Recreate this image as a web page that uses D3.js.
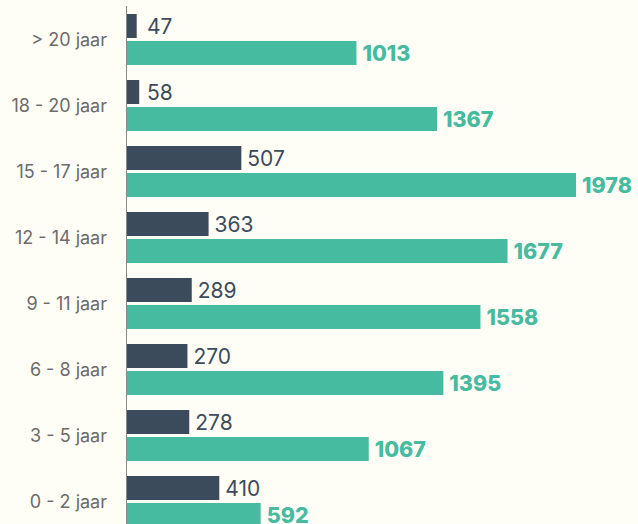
<!DOCTYPE html>
<html>
<head>
<meta charset="utf-8">
<script src="https://cdn.jsdelivr.net/npm/d3@7"></script>
<style>
  html, body { margin: 0; padding: 0; background: #fefdf6; }
  svg { display: block; }
</style>
</head>
<body>
<div class="visualisation"></div>
<script>
const categories = ["> 20 jaar", "18 - 20 jaar", "15 - 17 jaar", "12 - 14 jaar", "9 - 11 jaar", "6 - 8 jaar", "3 - 5 jaar", "0 - 2 jaar"];
const seriesDark = [47, 58, 507, 363, 289, 270, 278, 410];
const seriesGreen = [1013, 1367, 1978, 1677, 1558, 1395, 1067, 592];
const seriesKeys = ["dark", "green"];

const width = 638;
const height = 524;
const axisX = 126;

const rows = categories.map(function(c, i) {
  return { cat: c, dark: seriesDark[i], green: seriesGreen[i] };
});

const svg = d3
  .select(".visualisation")
  .append("svg")
  .attr("width", width)
  .attr("height", height);

svg.append("rect").attr("width", width).attr("height", height).attr("fill", "#fefdf6");

const x = d3.scaleLinear().domain([0, 1978]).range([axisX, 576]);

// 66px per group, 51px of bars, 15px gap
const y = d3
  .scaleBand()
  .domain(categories)
  .range([14, 14 + 66 * categories.length - 15])
  .paddingInner(15 / 66)
  .paddingOuter(0)
  .align(0);

const y1 = d3
  .scaleBand()
  .domain(seriesKeys)
  .range([0, y.bandwidth()])
  .paddingInner(3 / 27);

const colors = { dark: "#3c4b5b", green: "#47bb9f" };

const groups = svg
  .append("g")
  .selectAll("g")
  .data(rows)
  .enter()
  .append("g")
  .attr("transform", function(d) {
    return "translate(0," + y(d.cat) + ")";
  });

groups
  .selectAll("rect")
  .data(function(d) {
    return seriesKeys.map(function(k) {
      return { key: k, value: d[k] };
    });
  })
  .enter()
  .append("rect")
  .attr("x", x(0))
  .attr("y", function(d) { return y1(d.key); })
  .attr("width", function(d) { return x(d.value) - x(0); })
  .attr("height", y1.bandwidth())
  .attr("fill", function(d) { return colors[d.key]; });

groups
  .selectAll("text.value")
  .data(function(d) {
    return seriesKeys.map(function(k) {
      return { key: k, value: d[k] };
    });
  })
  .enter()
  .append("text")
  .attr("class", "value")
  .attr("x", function(d) { return Math.max(x(d.value) + 6, x(0) + 21); })
  .attr("y", function(d) { return y1(d.key) + y1.bandwidth() / 2 + 8; })
  .text(function(d) { return d.value; })
  .style("font-family", "Inter, 'Open Sans', sans-serif")
  .style("font-size", function(d) { return d.key === "green" ? "21.5px" : "21px"; })
  .style("font-weight", function(d) { return d.key === "green" ? 800 : 400; })
  .style("fill", function(d) { return d.key === "green" ? "#47bb9f" : "#3c4b5b"; });

// category axis
const axis = svg
  .append("g")
  .attr("transform", "translate(" + axisX + ",0)")
  .call(d3.axisLeft(y).tickSize(0).tickPadding(19));

axis.select(".domain").remove();
axis
  .selectAll(".tick text")
  .attr("dy", "0.36em")
  .style("font-family", "Inter, 'Open Sans', sans-serif")
  .style("font-size", "18px")
  .style("fill", "#6b6b6b");

svg
  .append("line")
  .attr("x1", axisX + 0.5)
  .attr("x2", axisX + 0.5)
  .attr("y1", 6)
  .attr("y2", height)
  .attr("stroke", "#8a8a8a")
  .attr("stroke-width", 1);
</script>
</body>
</html>
